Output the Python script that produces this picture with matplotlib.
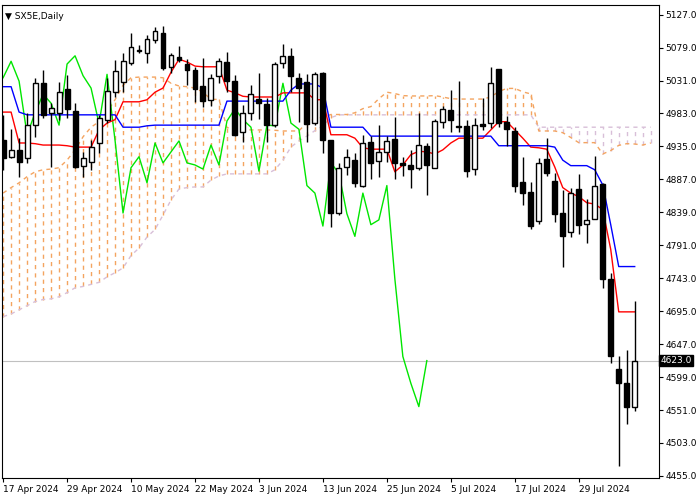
import matplotlib
matplotlib.use("Agg")
import matplotlib.pyplot as plt
import numpy as np

opens  = [4944,4920,4930,4918,4966,5027,4984,4984,5019,4987,4907,4912,4940,4974,5014,5029,5056,5074,5071,5090,
          5100,5051,5065,5055,5046,5023,5003,5038,5058,5030,4956,4984,5004,4997,4966,5056,5067,5035,5029,4969,
          5042,4944,4838,4905,4915,4878,4942,4914,4927,4946,4911,4908,4904,4936,4904,4971,4988,4964,4965,4902,
          4968,4969,5048,4971,4958,4883,4869,4827,4917,4885,4838,4811,4873,4822,4830,4880,4742,4611,4590,4555]
highs  = [4981,4960,4947,4984,5035,5046,4998,5029,5039,4998,4927,4944,4981,5035,5061,5071,5100,5083,5097,5109,
          5110,5071,5081,5062,5051,5064,5041,5064,5072,5039,4995,5024,5042,5006,5058,5084,5078,5042,5040,5043,
          5043,4944,4911,4931,4926,4952,4950,4966,4950,4978,4920,4930,4984,4940,4975,4994,5017,5030,4974,4976,
          5006,5051,5048,4979,4963,4920,4883,4918,4947,4896,4872,4875,4895,4859,4921,4882,4750,4630,4638,4710]
lows   = [4901,4918,4891,4911,4949,4976,4905,4974,4976,4903,4891,4901,4926,4969,5007,5014,5054,5071,5056,5086,
          5046,5042,5058,5024,5000,4992,4994,5027,5014,4950,4942,4974,4975,4942,4963,5049,5014,4971,4942,4966,
          4925,4818,4835,4894,4876,4876,4888,4891,4912,4888,4892,4875,4901,4864,4904,4962,4956,4956,4891,4894,
          4959,4962,4963,4936,4869,4850,4815,4822,4892,4825,4760,4803,4808,4795,4830,4729,4620,4469,4530,4549]
closes = [4918,4930,4912,4966,5027,4981,4991,5014,4990,4905,4918,4934,4976,5016,5045,5059,5080,5076,5091,5103,
          5049,5068,5061,5046,5019,5001,5035,5059,5030,4952,4984,5011,4998,4966,5055,5067,5038,5020,4968,5040,
          4944,4838,4904,4920,4882,4940,4911,4927,4943,4911,4908,4902,4937,4908,4972,4990,4974,4963,4899,4966,
          4965,5027,4969,4960,4878,4867,4819,4911,4896,4837,4804,4867,4821,4828,4878,4742,4629,4590,4556,4623]

tenkan = [4985,4985,4940,4940,4939,4937,4937,4937,4936,4934,4934,4934,4959,4969,4974,5000,5000,5000,5003,5014,
          5020,5043,5062,5058,5052,5051,5051,5051,5017,5013,5008,5007,5007,5007,5007,5013,5013,5013,5013,5003,
          5003,4952,4952,4952,4947,4933,4931,4931,4931,4898,4908,4923,4928,4927,4924,4930,4940,4947,4947,4947,
          4947,4959,4971,4971,4959,4947,4934,4933,4931,4905,4875,4867,4862,4853,4851,4843,4785,4694,4694,4694]
kijun  = [5022,5022,4985,4981,4981,4981,4981,4981,4981,4981,4981,4981,4981,4981,4981,4963,4963,4963,4965,4966,
          4966,4966,4966,4966,4966,4966,4966,4966,5001,5001,5001,5001,5001,5001,5001,5001,5017,5026,5026,5026,
          5020,4963,4963,4963,4963,4963,4950,4950,4950,4950,4950,4950,4950,4950,4950,4950,4950,4950,4950,4950,
          4950,4950,4936,4936,4936,4936,4936,4936,4936,4934,4915,4907,4907,4907,4901,4879,4821,4760,4760,4760]
span_a = [4867,4875,4882,4891,4898,4901,4902,4904,4915,4930,4949,4963,4971,4985,5003,5024,5035,5036,5036,5036,
          5035,5027,5023,5022,5020,5014,5003.5,5003.5,4962.5,4960.5,4960,4959,4959,4959,4958.5,4957.5,4957.5,4957.5,4970,4975,
          4977.5,4981.5,4981.5,4981.5,4984,4990,4993,5004.5,5014,5012,5009,5008.5,5008.5,5008.5,5009,5007,5004.5,5004,5004,5004,
          5004,5007,5015,5019.5,5019.5,5014.5,5011.5,4957.5,4957.5,4957.5,4955,4948,4940.5,4940.5,4940.5,4924,4929,4936.5,4939,4938.5,
          4937,4940]
span_b = [4687,4691,4697,4703,4709,4712,4713,4716,4722,4729,4731,4734,4737,4745,4751,4758,4776,4787,4803,4814,
          4835,4857,4873,4875,4876,4876,4886,4892,4895,4895,4895,4895,4895,4895,4901,4915,4934,4943,4950,4958,
          4965,4977,4981,4981,4981,4981,4981,4981,4981,4981,4981,4981,4981,4981,4981,4981,4981,4981,4981,4981,
          4981,4981,4981,4981,4981,4981,4981,4963,4963,4963,4963,4963,4963,4963,4963,4963,4963,4963,4963,4963,
          4963,4963]
tick_pos = [0, 8, 16, 24, 32, 40, 48, 56, 64, 72]
tick_labels = ["17 Apr 2024", "29 Apr 2024", "10 May 2024", "22 May 2024", "3 Jun 2024",
               "13 Jun 2024", "25 Jun 2024", "5 Jul 2024", "17 Jul 2024", "29 Jul 2024"]
last_price = 4623.0
y_ticks = list(range(4455, 5128, 48))

fig = plt.figure(figsize=(7, 5), dpi=100)
ax = fig.add_axes([0.003, 0.044, 0.938, 0.946])

n = len(closes)
x = np.arange(n)
xs = np.arange(len(span_a))
sa = np.array(span_a); sb = np.array(span_b)
ORANGE = "#F4A460"; PLUM = "#D8BFD8"
for i in xs:
    col = ORANGE if sa[i] >= sb[i] else PLUM
    ax.vlines(i, min(sa[i], sb[i]), max(sa[i], sb[i]), colors=col, lw=1,
              linestyles=(0, (3, 3)), zorder=1)
ax.plot(xs, sb, color=PLUM, lw=1, ls=(0, (3, 3)), zorder=1)
ax.plot(xs, sa, color=ORANGE, lw=1, ls=(0, (3, 3)), zorder=1)

ax.axhline(last_price, color="#C0C0C0", lw=0.8, zorder=1)

chikou = closes[26:]
ax.plot(np.arange(len(chikou)), chikou, color="#00E600", lw=1, zorder=2)
ax.plot(x, tenkan, color="#FF0000", lw=1, zorder=2)
ax.plot(x, kijun, color="#0000FF", lw=1, zorder=2)

o = np.array(opens); c = np.array(closes)
ax.vlines(x, lows, highs, color="black", lw=1, zorder=3)
bottom = np.minimum(o, c)
height = np.maximum(np.abs(c - o), 1.5)
face = ["white" if cc >= oo else "black" for oo, cc in zip(o, c)]
ax.bar(x, height, bottom=bottom, width=0.62, color=face, edgecolor="black", lw=1, zorder=4)

ax.set_xlim(-0.125, 82)
ax.set_ylim(4452, 5141)
ax.yaxis.tick_right()
ax.set_yticks(y_ticks)
ax.set_yticklabels([f"{v:.1f}" for v in y_ticks], fontsize=6.5)
ax.set_xticks(tick_pos)
ax.set_xticklabels(tick_labels, fontsize=6.5, ha="left")
ax.tick_params(axis="both", length=3, pad=2)
for s in ax.spines.values():
    s.set_linewidth(0.8)

ax.text(1.003, last_price, f"{last_price:.1f}", transform=ax.get_yaxis_transform(),
        fontsize=6.5, color="white", va="center", ha="left",
        bbox=dict(boxstyle="square,pad=0.15", fc="black", ec="black"), zorder=10, clip_on=False)
ax.text(0.004, 0.985, "▼ SX5E,Daily", transform=ax.transAxes, fontsize=6.5, va="top", ha="left")

fig.savefig("out.png", dpi=100)
